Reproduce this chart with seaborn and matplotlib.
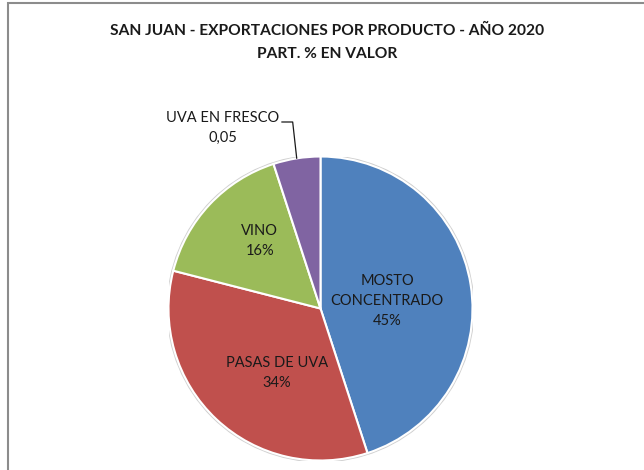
import numpy as np
import seaborn as sns
import matplotlib.pyplot as plt
from matplotlib.patches import Rectangle

productos = ["MOSTO\nCONCENTRADO", "PASAS DE UVA", "VINO", "UVA EN FRESCO"]
participacion = [0.45, 0.34, 0.16, 0.05]
etiquetas_valor = ["45%", "34%", "16%", "0,05"]
colores = ["#4F81BD", "#C0504D", "#9BBB59", "#8064A2"]

titulo = "SAN JUAN - EXPORTACIONES POR PRODUCTO - AÑO 2020\nPART. % EN VALOR"

# posiciones de las etiquetas (coordenadas del pie, radio 1)
pos_etiquetas = [(0.4375, 0.05), (-0.286, -0.424), (-0.40, 0.444), (-0.641, 1.19)]

sns.set_theme(style="white")
plt.rcParams["font.family"] = ["Lato", "DejaVu Sans"]

W, H = 644, 470
fig = plt.figure(figsize=(W / 100, H / 100), dpi=100)
fig.patch.set_facecolor("white")

# marco del grafico (se sale por derecha y abajo)
fig.patches.append(Rectangle((7.5 / W, -0.05), 1.2, (H - 3.5) / H + 0.05,
                             transform=fig.transFigure, fill=False,
                             edgecolor="#8c8c8c", linewidth=1.5))

fig.text(327 / W, 1 - 42.5 / H, titulo, ha="center", va="center",
         fontsize=11.2, fontweight="bold", color="#1a1a1a", linespacing=1.8)

# pie centrado en (320.5, 308.5) px, radio 152 px
cx, cy, R = 320.5, 308.5, 152
ax = fig.add_axes([(cx - R) / W, (H - cy - R) / H, 2 * R / W, 2 * R / H])
wedges, _ = ax.pie(participacion, colors=colores, startangle=90, counterclock=False,
                   radius=1, wedgeprops=dict(edgecolor="white", linewidth=1.5))
ax.add_patch(plt.Circle((0, 0), 1.006, fill=False, edgecolor="#d0d0d0",
                        linewidth=1.5, zorder=0))
ax.set_xlim(-1.0, 1.0)
ax.set_ylim(-1.0, 1.0)
ax.set_aspect("equal")
ax.axis("off")

for i, w in enumerate(wedges):
    tx, ty = pos_etiquetas[i]
    txt = productos[i] + "\n" + etiquetas_valor[i]
    ax.text(tx, ty, txt, ha="center", va="center", fontsize=10.5,
            color="#1a1a1a", linespacing=1.55, clip_on=False)
    if i == 3:
        ang = np.deg2rad((w.theta1 + w.theta2) / 2)
        ax.plot([-0.255, -0.183, np.cos(ang)], [1.227, 1.227, np.sin(ang)],
                color="#1a1a1a", linewidth=0.9, clip_on=False)

fig.savefig("out.png", dpi=100)
